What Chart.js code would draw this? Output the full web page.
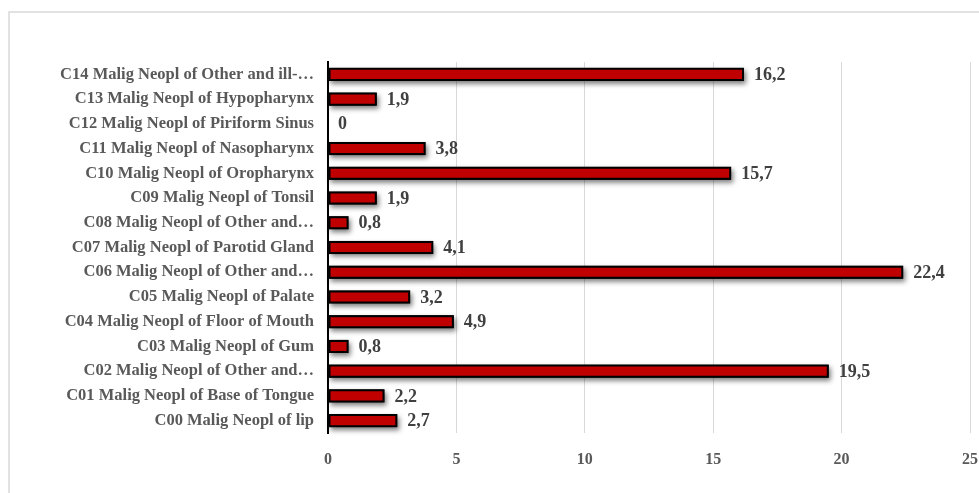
<!DOCTYPE html>
<html>
<head>
<meta charset="utf-8">
<script src="https://cdn.jsdelivr.net/npm/chart.js@4"></script>
<style>
  html, body { margin: 0; padding: 0; background: #fff; overflow: hidden; }
</style>
</head>
<body>
<canvas id="chart" width="979" height="493"></canvas>
<script>
const categories = [
  'C00 Malig Neopl of lip',
  'C01 Malig Neopl of Base of Tongue',
  'C02 Malig Neopl of Other and…',
  'C03 Malig Neopl of Gum',
  'C04 Malig Neopl of Floor of Mouth',
  'C05 Malig Neopl of Palate',
  'C06 Malig Neopl of Other and…',
  'C07 Malig Neopl of Parotid Gland',
  'C08 Malig Neopl of Other and…',
  'C09 Malig Neopl of Tonsil',
  'C10 Malig Neopl of Oropharynx',
  'C11 Malig Neopl of Nasopharynx',
  'C12 Malig Neopl of Piriform Sinus',
  'C13 Malig Neopl of Hypopharynx',
  'C14 Malig Neopl of Other and ill-…'
];
const values = [2.7, 2.2, 19.5, 0.8, 4.9, 3.2, 22.4, 4.1, 0.8, 1.9, 15.7, 3.8, 0, 1.9, 16.2];
const xTicks = [0, 5, 10, 15, 20, 25];

const fontFamily = '"Liberation Serif", "Times New Roman", serif';

// light grey frame around the chart, like the Excel chart border
const framePlugin = {
  id: 'frame',
  beforeDraw(chart) {
    const c = chart.ctx;
    c.save();
    c.fillStyle = '#fff';
    c.fillRect(0, 0, chart.width, chart.height);
    c.strokeStyle = '#d9d9d9';
    c.lineWidth = 1.5;
    c.strokeRect(9, 12, chart.width + 20, chart.height + 20);
    c.restore();
  }
};

// soft drop shadow under each bar
const shadowPlugin = {
  id: 'barShadow',
  beforeDatasetsDraw(chart) {
    const c = chart.ctx;
    const meta = chart.getDatasetMeta(0);
    c.save();
    c.shadowColor = 'rgba(0,0,0,0.5)';
    c.shadowBlur = 5;
    c.shadowOffsetX = 2;
    c.shadowOffsetY = 3;
    c.fillStyle = '#000';
    meta.data.forEach(bar => {
      const w = bar.x - bar.base;
      if (w <= 0) return;
      c.fillRect(bar.base, bar.y - bar.height / 2, w, bar.height);
    });
    c.restore();
  }
};

// value labels at the end of each bar, with a decimal comma
const valueLabels = {
  id: 'valueLabels',
  afterDatasetsDraw(chart) {
    const c = chart.ctx;
    const meta = chart.getDatasetMeta(0);
    c.save();
    c.font = 'bold 18px ' + fontFamily;
    c.fillStyle = '#404040';
    c.textAlign = 'left';
    c.textBaseline = 'middle';
    meta.data.forEach((bar, i) => {
      const v = values[i];
      const txt = v === 0 ? '0' : String(v).replace('.', ',');
      c.fillText(txt, bar.x + 10, bar.y + 1);
    });
    c.restore();
  }
};

new Chart(document.getElementById('chart').getContext('2d'), {
  type: 'bar',
  data: {
    labels: categories,
    datasets: [{
      data: values,
      backgroundColor: '#c00000',
      borderColor: '#000',
      borderWidth: 2,
      borderSkipped: false,
      categoryPercentage: 1,
      barPercentage: 0.53
    }]
  },
  options: {
    indexAxis: 'y',
    responsive: false,
    animation: false,
    layout: { padding: { top: 62, right: 9, bottom: 0, left: 0 } },
    plugins: {
      legend: { display: false },
      tooltip: { enabled: false }
    },
    scales: {
      x: {
        min: 0,
        max: 25,
        afterBuildTicks: axis => { axis.ticks = xTicks.map(v => ({ value: v })); },
        afterFit: axis => { axis.height = 60; },
        // invisible tick marks push the labels down without adding side padding
        grid: { color: '#d9d9d9', lineWidth: 1, drawTicks: true, tickLength: 17, tickColor: 'rgba(0,0,0,0)' },
        border: { display: false },
        ticks: {
          padding: 0,
          color: '#595959',
          font: { family: fontFamily, size: 16, weight: 'bold' }
        }
      },
      y: {
        reverse: true,
        afterFit: axis => { axis.width = 328; },
        grid: { display: false, drawTicks: false },
        border: { display: true, color: '#000', width: 2 },
        ticks: {
          padding: 14,
          color: '#595959',
          font: { family: fontFamily, size: 16.5, weight: 'bold' }
        }
      }
    }
  },
  plugins: [framePlugin, shadowPlugin, valueLabels]
});
</script>
</body>
</html>
